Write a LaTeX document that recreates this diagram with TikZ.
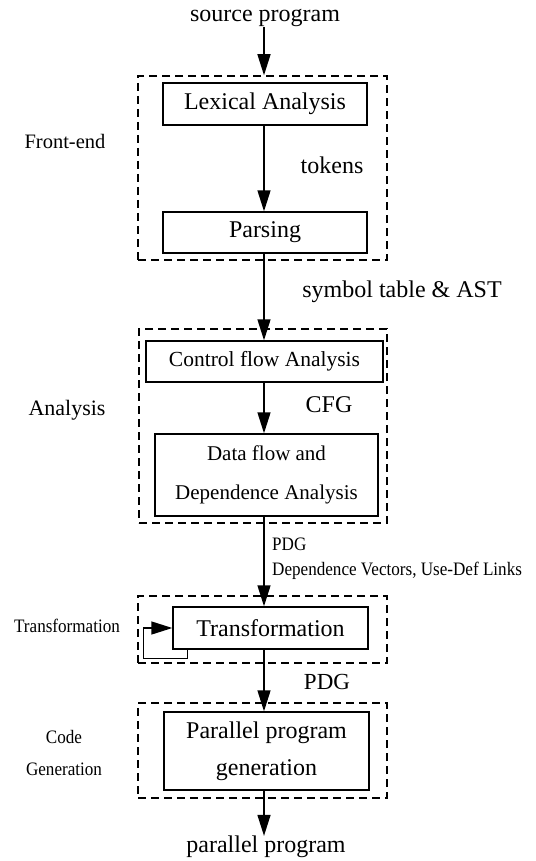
\documentclass[tikz,border=0pt]{standalone}
\usepackage{fontspec}
\setmainfont{Liberation Serif}
\usepackage{graphicx}
\usetikzlibrary{arrows.meta,calc}
\newcommand\fsz[2][0]{\fontsize{#2}{#2}\selectfont}
\newcommand\cond[1]{\scalebox{0.9}[1]{#1}}
\begin{document}
\begin{tikzpicture}[x=1pt,y=-1pt,
  box/.style={draw,line width=1.4pt,inner sep=0pt,align=center,font=\fsz{24}},
  frame/.style={draw,line width=1.5pt,dash pattern=on 8pt off 5pt,inner sep=0pt},
  lbl/.style={inner sep=0pt,font=\fsz{24}},
  small/.style={inner sep=0pt,font=\fsz{19}},
  arr/.style={line width=1.4pt,-{Triangle[length=21pt,width=13pt]}},
]
\useasboundingbox (0,0) rectangle (535,861);
\fill[white] (0,0) rectangle (535,861);
\coordinate (spine) at (264,0);

% dashed frames
\node[frame,minimum width=249pt,minimum height=184pt] (fe) at (262.5,168) {};
\node[frame,minimum width=248pt,minimum height=194pt] (an) at (263,426) {};
\node[frame,minimum width=249pt,minimum height=67pt] (trf) at (262.5,629.5) {};
\node[frame,minimum width=249pt,minimum height=95pt] (cg) at (262.5,750.5) {};

% boxes
\node[box,minimum width=204pt,minimum height=42pt] (lex) at (265,104) {Lexical Analysis};
\node[box,minimum width=204pt,minimum height=41pt] (parse) at (265,232.5) {Parsing};
\node[box,minimum width=237pt,minimum height=41pt,font=\fsz{21.5}] (cfa) at (264.5,361.5) {Control flow Analysis};
\node[box,minimum width=223pt,minimum height=82pt,font=\fontsize{21}{39}\selectfont] (dfa) at (266.5,475) {Data flow and\\Dependence Analysis};
\node[box,minimum width=195pt,minimum height=42pt] (tr) at (270.5,628) {Transformation};
\node[box,minimum width=205pt,minimum height=78pt,font=\fontsize{24}{37}\selectfont] (pp) at (266.5,751) {Parallel program\\generation};

% texts
\node[lbl] (src) at (265,18) {source program};
\node[lbl] (out) at (266,847) {parallel program};
\node[lbl] (tok) at (332,165) {tokens};
\node[lbl] (sym) at (402,292) {symbol table \& AST};
\node[lbl] (cfg) at (329,405) {CFG};
\node[lbl,font=\fsz{23}] (pdg2) at (327,682) {PDG};
\node[small,anchor=west] (pdg1) at (272,544) {\cond{PDG}};
\node[small,anchor=west] (dv) at (272,571) {\cond{Dependence Vectors, Use-Def Links}};

% side labels
\node[inner sep=0pt,font=\fsz{20.5}] (lfe) at (65,141) {Front-end};
\node[inner sep=0pt,font=\fsz{22}] (lan) at (67,410) {Analysis};
\node[small] (ltr) at (67,626) {\cond{Transformation}};
\node[small,align=center,font=\fontsize{19}{32}\selectfont] (lcg) at (64,753) {\cond{Code}\\\cond{Generation}};

% connectors
\draw[arr] (src.south -| spine) -- (fe.north -| spine);
\draw[arr] (lex.south -| spine) -- (parse.north -| spine);
\draw[arr] (parse.south -| spine) -- (cfa.north -| spine);
\draw[arr] (cfa.south -| spine) -- (dfa.north -| spine);
\draw[arr] (dfa.south -| spine) -- (tr.north -| spine);
\draw[arr] (tr.south -| spine) -- (pp.north -| spine);
\draw[arr] (pp.south -| spine) -- (out.north -| spine);
\draw[arr] ($(tr.south west)+(15,0)$) -- ++(0,9) -| ($(tr.west)+(-29,0)$) -- (tr.west);
\end{tikzpicture}
\end{document}
